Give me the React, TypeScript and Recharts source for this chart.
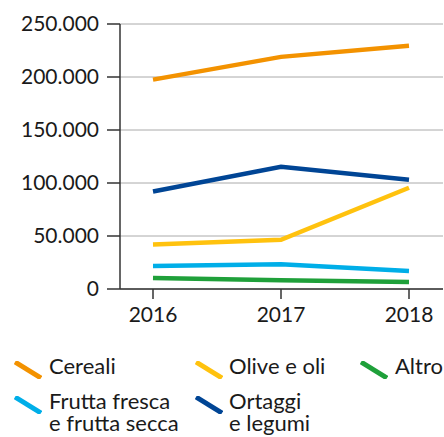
import React from 'react';
import { LineChart, Line, XAxis, YAxis, CartesianGrid, Legend } from 'recharts';

const years = ['2016', '2017', '2018'];
const cereali = [197500, 219000, 229500];
const olive = [42000, 46500, 95500];
const altro = [10400, 8200, 6600];
const frutta = [21700, 23300, 17000];
const ortaggi = [92000, 115400, 103000];
const yTicks = [0, 50000, 100000, 150000, 200000, 250000];

const series = [
  { key: 'cereali', label: ['Cereali'], color: '#F39200', values: cereali },
  { key: 'olive', label: ['Olive e oli'], color: '#FFC20E', values: olive },
  { key: 'altro', label: ['Altro'], color: '#1FA03A', values: altro },
  { key: 'frutta', label: ['Frutta fresca', 'e frutta secca'], color: '#00AEE8', values: frutta },
  { key: 'ortaggi', label: ['Ortaggi', 'e legumi'], color: '#004595', values: ortaggi },
];

const data = years.map((y, i) => {
  const row: Record<string, string | number> = { year: y };
  series.forEach((s) => {
    row[s.key] = s.values[i];
  });
  return row;
});

const FONT = 'Lato, "Noto Sans", sans-serif';

const fmt = (v: number) => String(v).replace(/\B(?=(\d{3})+(?!\d))/g, '.');

const legendPos = [
  { iconX: 14, textX: 49, rowY: 0 },
  { iconX: 195, textX: 229, rowY: 0 },
  { iconX: 360, textX: 395, rowY: 0 },
  { iconX: 14, textX: 49, rowY: 35 },
  { iconX: 195, textX: 229, rowY: 35 },
];

const LegendContent = () => (
  <div style={{ position: 'relative', width: 444, height: 82, fontFamily: FONT }}>
    {series.map((s, i) => {
      const p = legendPos[i];
      return (
        <React.Fragment key={s.key}>
          <svg style={{ position: 'absolute', left: p.iconX, top: p.rowY + 6 }} width={28} height={18}>
            <line x1={1} y1={1} x2={27} y2={17} stroke={s.color} strokeWidth={5} />
          </svg>
          {s.label.map((l, j) => (
            <div
              key={l}
              style={{
                position: 'absolute',
                left: p.textX,
                top: p.rowY + j * 22,
                fontSize: 22,
                lineHeight: '22px',
                color: '#1a1a1a',
                whiteSpace: 'nowrap',
              }}
            >
              {l}
            </div>
          ))}
        </React.Fragment>
      );
    })}
  </div>
);

export default function App() {
  return (
    <div style={{ position: 'absolute', left: 0, top: 0, width: 444, height: 437, overflow: 'hidden', background: '#fff' }}>
      <LineChart width={444} height={437} data={data} margin={{ top: 24, right: 1, bottom: 0, left: 0 }}>
        <CartesianGrid vertical={false} stroke="#aaaaaa" strokeWidth={1} />
        <XAxis
          dataKey="year"
          padding={{ left: 33, right: 34 }}
          height={66}
          tickSize={10}
          tickMargin={8}
          axisLine={{ stroke: '#333', strokeWidth: 1.5 }}
          tickLine={{ stroke: '#333', strokeWidth: 1.5 }}
          tick={{ fontSize: 21, fill: '#1a1a1a', fontFamily: FONT }}
        />
        <YAxis
          width={120}
          domain={[0, 250000]}
          ticks={yTicks}
          tickFormatter={fmt}
          tickSize={13}
          tickMargin={8}
          axisLine={{ stroke: '#333', strokeWidth: 1.5 }}
          tickLine={{ stroke: '#333', strokeWidth: 1.5 }}
          tick={{ fontSize: 21, fill: '#1a1a1a', fontFamily: FONT }}
        />
        <Legend verticalAlign="bottom" content={<LegendContent />} />
        {series.map((s) => (
          <Line
            key={s.key}
            dataKey={s.key}
            stroke={s.color}
            strokeWidth={4.5}
            dot={false}
            isAnimationActive={false}
            strokeLinejoin="miter"
          />
        ))}
      </LineChart>
    </div>
  );
}
